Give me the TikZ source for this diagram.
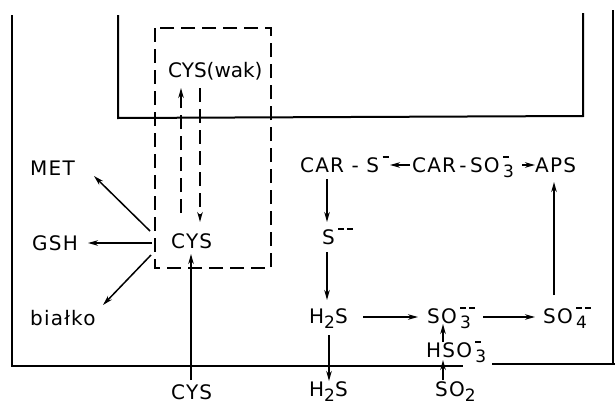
\documentclass[tikz,border=0pt]{standalone}
\usepackage{fontspec}
\setmainfont{DejaVu Sans}[LetterSpace=6]
\newfontfamily\tightfont{DejaVu Sans}
\usetikzlibrary{arrows.meta,calc}
\newcommand\sbs[1]{\raisebox{-0.27em}{\fontsize{17}{17}\selectfont #1}}
\newcommand\mbar{\raisebox{0.72em}{\rule{0.3em}{0.08em}}}
\newcommand\mbars{\mbar\hspace{0.14em}\mbar}
\newsavebox\ionsub
\newsavebox\ionsup
\newcommand\ion[2]{\sbox\ionsub{\sbs{#1}}\sbox\ionsup{#2}%
  \ifdim\wd\ionsub>\wd\ionsup \rlap{\usebox\ionsup}\usebox\ionsub
  \else\rlap{\usebox\ionsub}\usebox\ionsup\fi}
\begin{document}
\begin{tikzpicture}[x=1pt,y=-1pt,
  lbl/.style={inner sep=0pt, font=\fontsize{20}{23}\selectfont, anchor=base west},
  wall/.style={line width=2pt},
  arr/.style={line width=1.5pt, -{Stealth[length=10pt,width=5.5pt]}},
  dsh/.style={line width=1.5pt, dash pattern=on 14pt off 7pt}]
\useasboundingbox (0,0) rectangle (615,407);
% cell walls
\draw[wall] (12,15) -- (12,366) -- (463,366);
\draw[wall] (492,364) -- (615,364);
\draw[wall] (613,10) -- (613,364);
\draw[wall] (118,15) -- (118,118) -- (583,116) -- (583,13);
% dashed box
\draw[dsh] (155,28) rectangle (271,268);
% labels
\node[lbl] (cysw) at (168,77) {\tightfont CYS(wak)};
\node[lbl] (met) at (30,175) {MET};
\node[lbl] (gsh) at (32,250) {GSH};
\node[lbl] (bialko) at (30,325) {białko};
\node[lbl] (cys) at (171,248) {CYS};
\node[lbl] (cysout) at (171,399) {CYS};
\node[lbl] (cars) at (300,172) {CAR - S\,\mbar};
\node[lbl] (carso) at (412,172) {CAR\,-\,SO\,\ion{3}{\mbar}};
\node[lbl] (aps) at (535,172) {APS};
\node[lbl] (sm) at (322,244) {S\,\mbars};
\node[lbl] (hs) at (309,323) {H\sbs{2}S};
\node[lbl] (so3) at (427,323) {SO\,\ion{3}{\mbars}};
\node[lbl] (so4) at (543,323) {SO\,\ion{4}{\mbars}};
\node[lbl] (hso3) at (426,357) {HSO\,\ion{3}{\mbar}};
\node[lbl] (hsout) at (309,396) {H\sbs{2}S};
\node[lbl] (so2) at (435,396) {SO\sbs{2}};
% connectors
\draw[arr,dsh] ($(cys.base west)+(10,-35)$) -- ($(cysw.base west)+(13,11)$);
\draw[arr,dsh] ($(cysw.base west)+(32,11)$) -- ($(cys.base west)+(29,-26)$);
\draw[arr] ($(cysout.base west)+(20,-19)$) -- ($(cys.base west)+(20,6)$);
\draw[arr] ($(cys.base west)+(-19,-5)$) -- ($(gsh.base west)+(56,-7)$);
\draw[arr] ($(cys.base west)+(-21,-17)$) -- ($(met.base west)+(64,1)$);
\draw[arr] ($(cys.base west)+(-20,7)$) -- ($(bialko.base west)+(73,-20)$);
\draw[arr] ($(cars.base west)+(27,7)$) -- ($(sm.base west)+(5,-22)$);
\draw[arr] ($(sm.base west)+(5,8)$) -- ($(hs.base west)+(18,-23)$);
\draw[arr] ($(hs.base west)+(20,12)$) -- ($(hsout.base west)+(20,-15)$);
\draw[arr] ($(hs.base west)+(54,-6)$) -- ($(so3.base west)+(-9,-6)$);
\draw[arr] ($(so3.base west)+(56,-6)$) -- ($(so4.base west)+(-8,-6)$);
\draw[arr] ($(so4.base west)+(11,-28)$) -- ($(aps.base west)+(19,10)$);
\draw[arr] ($(carso.base west)+(-2,-7)$) -- ($(cars.base west)+(90,-7)$);
\draw[arr] ($(carso.base west)+(110,-7)$) -- ($(aps.base west)+(0,-7)$);
\draw[arr] ($(hso3.base west)+(17,-15)$) -- ($(so3.base west)+(16,1)$);
\draw[arr] ($(so2.base west)+(8,-16)$) -- ($(hso3.base west)+(17,3)$);
\end{tikzpicture}
\end{document}
